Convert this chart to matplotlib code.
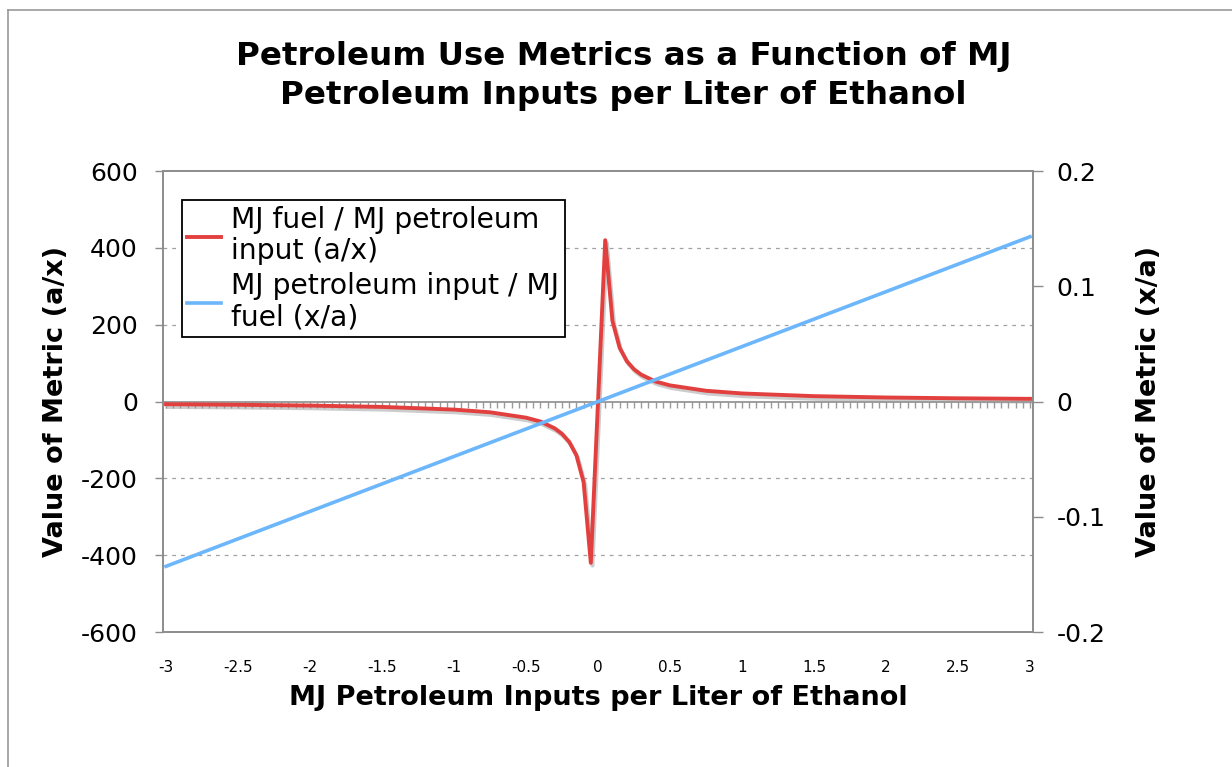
import numpy as np
import matplotlib
matplotlib.use("Agg")
import matplotlib.pyplot as plt
import matplotlib.patheffects as pe
from matplotlib.lines import Line2D

# values
x_ratio = [-3, -2.5, -2, -1.5, -1, -0.75, -0.5, -0.4, -0.3, -0.25, -0.2, -0.15, -0.1, -0.05,
           0, 0.05, 0.1, 0.15, 0.2, 0.25, 0.3, 0.4, 0.5, 0.75, 1, 1.5, 2, 2.5, 3]
fuel_per_pet = [-7, -8.4, -10.5, -14, -21, -28, -42, -52, -70, -84, -105, -140, -210, -420,
                0, 420, 210, 140, 105, 84, 70, 52, 42, 28, 21, 14, 10.5, 8.4, 7]
x_inv = [-3, -1.5, 0, 1.5, 3]
pet_per_fuel = [-0.143, -0.0715, 0, 0.0715, 0.143]

x_ticks = [-3, -2.5, -2, -1.5, -1, -0.5, 0, 0.5, 1, 1.5, 2, 2.5, 3]
x_tick_labels = ["-3", "-2.5", "-2", "-1.5", "-1", "-0.5", "0", "0.5", "1", "1.5", "2", "2.5", "3"]
y_left_ticks = [-600, -400, -200, 0, 200, 400, 600]
y_right_ticks = [-0.2, -0.1, 0, 0.1, 0.2]

red = "#e2403f"
blue = "#6cb6fb"
spine_gray = "#8c8c8c"

fig = plt.figure(figsize=(12.32, 7.67), dpi=100)
ax = fig.add_axes([0.1323, 0.176, 0.7062, 0.601])
ax2 = ax.twinx()

# figure border (top and left only, like the screenshot)
fig.add_artist(Line2D([8 / 1232, 1], [1 - 10 / 767, 1 - 10 / 767], transform=fig.transFigure,
                      color="#999999", lw=1.2))
fig.add_artist(Line2D([8 / 1232, 8 / 1232], [0, 1 - 10 / 767], transform=fig.transFigure,
                      color="#999999", lw=1.2))

ax.plot(x_ratio, fuel_per_pet, color=red, lw=2.8, solid_joinstyle="round", zorder=3,
        path_effects=[pe.SimpleLineShadow(offset=(1.2, -2), shadow_color="#9a9a9a", alpha=0.5),
                      pe.Normal()])
ax2.plot(x_inv, pet_per_fuel, color=blue, lw=2.6, zorder=3)

ax.set_xlim(-3.021, 3.021)
ax.set_ylim(-600, 600)
ax2.set_ylim(-0.2, 0.2)

ax.set_yticks(y_left_ticks)
ax.set_yticklabels([str(v) for v in y_left_ticks])
ax2.set_yticks(y_right_ticks)
ax2.set_yticklabels(["-0.2", "-0.1", "0", "0.1", "0.2"])

for a in (ax, ax2):
    for s in a.spines.values():
        s.set_color(spine_gray)
        s.set_linewidth(1.2)
ax.tick_params(axis="y", direction="out", length=6, width=1, color=spine_gray,
               labelsize=18, pad=12)
ax2.tick_params(axis="y", direction="out", length=7, width=1, color=spine_gray,
                labelsize=18, pad=10)

# gridlines
for v in [-400, -200, 200, 400]:
    ax.axhline(v, color="#a0a0a0", lw=0.9, ls=(0, (3, 4)), zorder=1)

# category ticks hanging below the zero line
ax.axhline(0, color=spine_gray, lw=1.2, zorder=2)
zero_axis = ax.secondary_xaxis(0.5)
for s in zero_axis.spines.values():
    s.set_visible(False)
zero_axis.xaxis.set_ticks_position("bottom")
zero_axis.set_xticks(x_ticks)
zero_axis.set_xticklabels([])
zero_axis.set_xticks(np.arange(-3, 3.001, 0.05), minor=True)
zero_axis.tick_params(which="both", direction="out", length=4, width=1, color="#9a9a9a",
                      labelbottom=False, labeltop=False, top=False, bottom=True)

ax.set_xticks(x_ticks)
ax.set_xticklabels(x_tick_labels, fontsize=11)
ax.tick_params(axis="x", length=0, pad=20)

ax.set_xlabel("MJ Petroleum Inputs per Liter of Ethanol", fontsize=19.5, fontweight="bold",
              labelpad=7)
ax.set_ylabel("Value of Metric (a/x)", fontsize=19.5, fontweight="bold", labelpad=9)
ax2.set_ylabel("Value of Metric (x/a)", fontsize=19.5, fontweight="bold", labelpad=22)

fig.text(0.506, 0.901, "Petroleum Use Metrics as a Function of MJ\nPetroleum Inputs per Liter of Ethanol",
         ha="center", va="center", fontsize=23.4, fontweight="bold", linespacing=1.35)

handles = [Line2D([], [], color=red, lw=2.8), Line2D([], [], color=blue, lw=2.6)]
leg = ax.legend(handles, ["MJ fuel / MJ petroleum\ninput (a/x)",
                          "MJ petroleum input / MJ\nfuel (x/a)"],
                loc="upper left", bbox_to_anchor=(0.0215, 0.937), fontsize=20.3,
                frameon=True, fancybox=False, edgecolor="black", framealpha=1,
                handlelength=1.2, handletextpad=0.35, borderpad=0.2, labelspacing=0.25,
                borderaxespad=0)
for t in leg.get_texts():
    t.set_linespacing(1.15)
leg.get_frame().set_linewidth(1.3)
leg.set_zorder(5)

fig.savefig("out.png", dpi=100)
